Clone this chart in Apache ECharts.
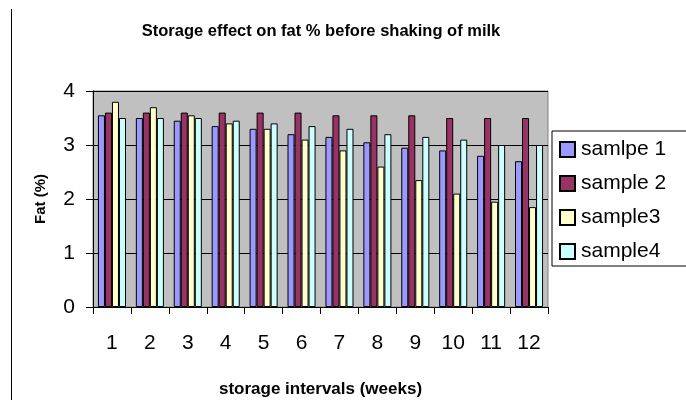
<!DOCTYPE html>
<html>
<head>
<meta charset="utf-8">
<script src="https://cdn.jsdelivr.net/npm/echarts@6/dist/echarts.min.js"></script>
<style>
html,body{margin:0;padding:0;background:#fff;}
#chart{width:686px;height:404px;}
</style>
</head>
<body>
<div id="chart"></div>
<script>
const categories = ['1','2','3','4','5','6','7','8','9','10','11','12'];
const seriesNames = ['samlpe 1','sample 2','sample3','sample4'];
const sample1 = [3.55,3.5,3.45,3.35,3.3,3.2,3.15,3.05,2.95,2.9,2.8,2.7];
const sample2 = [3.6,3.6,3.6,3.6,3.6,3.6,3.55,3.55,3.55,3.5,3.5,3.5];
const sample3 = [3.8,3.7,3.55,3.4,3.3,3.1,2.9,2.6,2.35,2.1,1.95,1.85];
const sample4 = [3.5,3.5,3.5,3.45,3.4,3.35,3.3,3.2,3.15,3.1,3.0,3.0];
const colors = ['#9999FF','#993366','#FFFFCC','#CCFFFF'];

const FONT = 'Liberation Sans, Arial, sans-serif';
const values = [sample1, sample2, sample3, sample4];

const chart = echarts.init(document.getElementById('chart'), null, {renderer:'canvas'});
chart.setOption({
  animation: false,
  backgroundColor: '#ffffff',
  title: {
    text: 'Storage effect on fat % before shaking of milk',
    left: 321, top: 23, textAlign: 'center', padding: 0,
    textStyle: {fontFamily: FONT, fontSize: 16.5, fontWeight: 'bold', color: '#000'}
  },
  legend: {
    orient: 'vertical',
    left: 552, top: 131,
    padding: [8, 80, 4, 7],
    itemGap: 13,
    itemWidth: 15, itemHeight: 15,
    icon: 'rect',
    borderColor: '#000', borderWidth: 1,
    backgroundColor: '#fff',
    textStyle: {fontFamily: FONT, fontSize: 21, lineHeight: 21, color: '#000', padding: [0,0,0,1]},
    data: seriesNames
  },
  grid: {
    left: 93, top: 91, width: 455, height: 216,
    show: true, backgroundColor: '#C0C0C0', borderColor: '#808080', borderWidth: 1,
    containLabel: false
  },
  xAxis: {
    type: 'category', data: categories,
    name: 'storage intervals (weeks)', nameLocation: 'middle', nameGap: 74,
    nameTextStyle: {fontFamily: FONT, fontSize: 17, fontWeight: 'bold', color: '#000'},
    axisLine: {lineStyle: {color: '#000', width: 1}},
    axisTick: {show: true, alignWithLabel: false, length: 7, lineStyle: {color: '#000'}},
    axisLabel: {fontFamily: FONT, fontSize: 21, lineHeight: 21, color: '#000', margin: 26},
    splitLine: {show: false}
  },
  yAxis: {
    type: 'value', min: 0, max: 4, interval: 1,
    name: 'Fat (%)', nameLocation: 'middle', nameGap: 45, nameRotate: 90,
    nameTextStyle: {fontFamily: FONT, fontSize: 15, fontWeight: 'bold', color: '#000'},
    axisLine: {show: true, lineStyle: {color: '#000', width: 1}},
    axisTick: {show: true, length: 7, lineStyle: {color: '#000'}},
    axisLabel: {fontFamily: FONT, fontSize: 21, color: '#000', margin: 18},
    splitLine: {show: true, lineStyle: {color: '#000', width: 1}}
  },
  graphic: [{
    type: 'line', shape: {x1: 11.5, y1: 9, x2: 11.5, y2: 400},
    style: {stroke: '#000', lineWidth: 1}
  }],
  series: seriesNames.map((n, i) => ({
    name: n, type: 'bar', data: values[i],
    barGap: '0%', barCategoryGap: '26%',
    itemStyle: {color: colors[i], borderColor: '#000', borderWidth: 1}
  }))
});
</script>
</body>
</html>
